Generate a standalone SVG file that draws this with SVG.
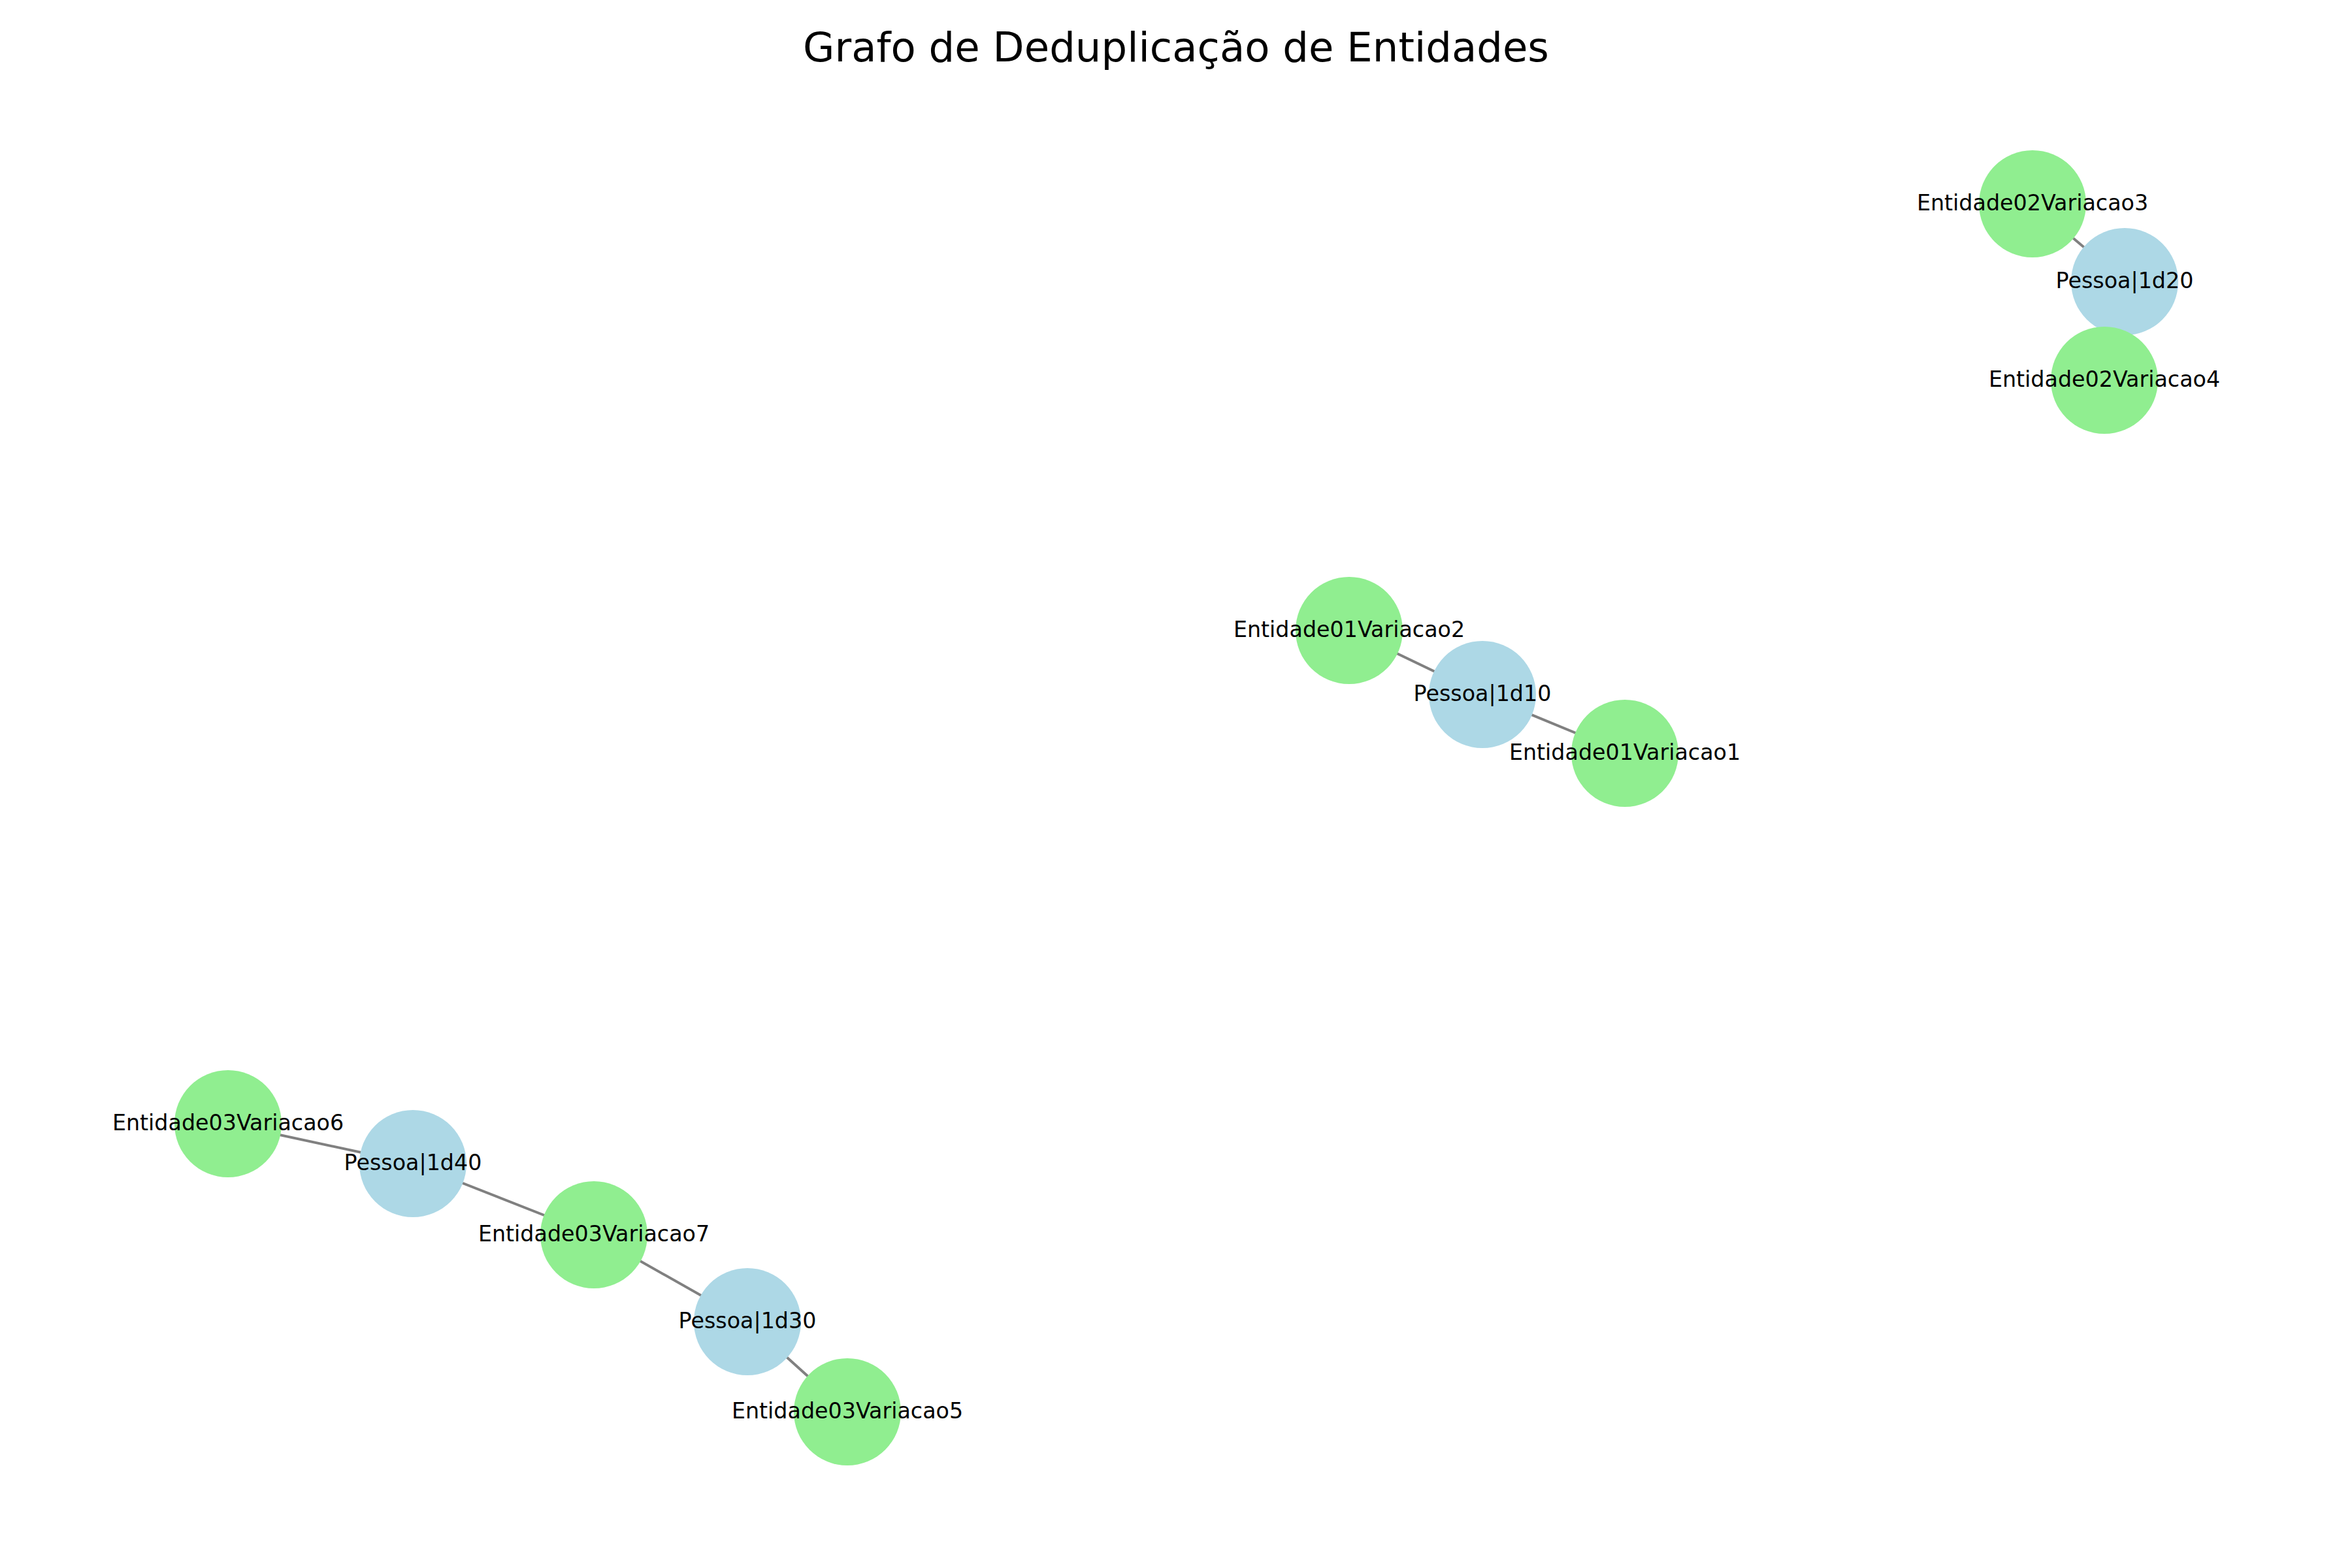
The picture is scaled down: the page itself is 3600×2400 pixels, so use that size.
<svg xmlns="http://www.w3.org/2000/svg" width="3600" height="2400" viewBox="0 0 3600 2400">
<style>
.e{stroke:#808080;stroke-width:4;fill:none}
.ent{fill:#90EE90}
.pes{fill:#ADD8E6}
.lbl{font-family:"DejaVu Sans",sans-serif;font-size:33.3px;fill:#000;text-anchor:middle}
.title{font-family:"DejaVu Sans",sans-serif;font-size:62.5px;fill:#000;text-anchor:middle}
</style>
<rect width="3600" height="2400" fill="#fff"/>
<text class="title" x="1800" y="94">Grafo de Deduplicação de Entidades</text>
<g id="edges">
<line class="e" x1="3111" y1="312" x2="3252" y2="431"/>
<line class="e" x1="3252" y1="431" x2="3221" y2="582"/>
<line class="e" x1="2065" y1="965" x2="2269" y2="1063"/>
<line class="e" x1="2269" y1="1063" x2="2487" y2="1153"/>
<line class="e" x1="349" y1="1720" x2="632" y2="1781"/>
<line class="e" x1="632" y1="1781" x2="909" y2="1890"/>
<line class="e" x1="909" y1="1890" x2="1144" y2="2023"/>
<line class="e" x1="1144" y1="2023" x2="1297" y2="2161"/>
</g>
<g id="n_E02V3"><circle class="ent" cx="3111" cy="312" r="82"/></g>
<g id="n_P1d20"><circle class="pes" cx="3252" cy="431" r="82"/></g>
<g id="n_E02V4"><circle class="ent" cx="3221" cy="582" r="82"/></g>
<g id="n_E01V2"><circle class="ent" cx="2065" cy="965" r="82"/></g>
<g id="n_P1d10"><circle class="pes" cx="2269" cy="1063" r="82"/></g>
<g id="n_E01V1"><circle class="ent" cx="2487" cy="1153" r="82"/></g>
<g id="n_E03V6"><circle class="ent" cx="349" cy="1720" r="82"/></g>
<g id="n_P1d40"><circle class="pes" cx="632" cy="1781" r="82"/></g>
<g id="n_E03V7"><circle class="ent" cx="909" cy="1890" r="82"/></g>
<g id="n_P1d30"><circle class="pes" cx="1144" cy="2023" r="82"/></g>
<g id="n_E03V5"><circle class="ent" cx="1297" cy="2161" r="82"/></g>
<g id="labels">
<text class="lbl" x="3111" y="322">Entidade02Variacao3</text>
<text class="lbl" x="3252" y="441">Pessoa|1d20</text>
<text class="lbl" x="3221" y="592">Entidade02Variacao4</text>
<text class="lbl" x="2065" y="975">Entidade01Variacao2</text>
<text class="lbl" x="2269" y="1073">Pessoa|1d10</text>
<text class="lbl" x="2487" y="1163">Entidade01Variacao1</text>
<text class="lbl" x="349" y="1730">Entidade03Variacao6</text>
<text class="lbl" x="632" y="1791">Pessoa|1d40</text>
<text class="lbl" x="909" y="1900">Entidade03Variacao7</text>
<text class="lbl" x="1144" y="2033">Pessoa|1d30</text>
<text class="lbl" x="1297" y="2171">Entidade03Variacao5</text>
</g>
</svg>
